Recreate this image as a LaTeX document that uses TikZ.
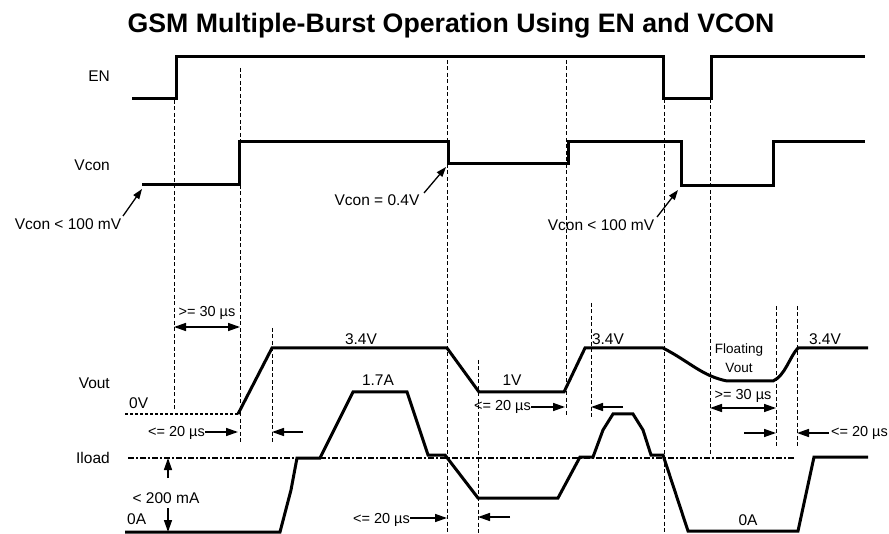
\documentclass[tikz,border=0pt]{standalone}
\usepackage{fontspec}
\setmainfont{Liberation Sans}
\usetikzlibrary{arrows.meta}
\begin{document}
\begin{tikzpicture}[x=1pt,y=-1pt,
  wave/.style={line width=3pt, line join=miter},
  guide/.style={line width=0.9pt, dash pattern=on 4pt off 2.5pt},
  zeroref/.style={line width=1.2pt, dash pattern=on 3pt off 2pt},
  loadref/.style={line width=1.5pt, dash pattern=on 6pt off 2pt on 2pt off 2pt},
  dimarrow/.style={line width=1.5pt, -{Triangle[length=12pt,width=8pt]}},
  dimboth/.style={line width=1.5pt, {Triangle[length=12pt,width=8pt]}-{Triangle[length=12pt,width=8pt]}},
  lbl/.style={font=\fontsize{15.5}{18}\selectfont, inner sep=0pt, anchor=base},
  dimlbl/.style={font=\fontsize{14.5}{17}\selectfont, inner sep=0pt, anchor=base},
  small/.style={font=\fontsize{13.5}{16}\selectfont, inner sep=0pt, anchor=base},
  note/.style={line width=1.3pt, -{Triangle[length=10pt,width=7pt]}}
]
\useasboundingbox (0,0) rectangle (889,534);
% title
\node[inner sep=0pt, anchor=base, font=\fontsize{26.7}{31}\selectfont\bfseries] (title) at (451,33) {GSM Multiple-Burst Operation Using EN and VCON};
% signal labels
\node[lbl, anchor=base east] (lEN) at (110,82) {EN};
\node[lbl, anchor=base east] (lVcon) at (110,171) {Vcon};
\node[lbl, anchor=base east] (lVout) at (110,389) {Vout};
\node[lbl, anchor=base east] (lIload) at (110,464) {Iload};
% guide lines
\foreach \x/\a/\b in {174/100/410, 240/68/443, 447/60/534, 272/328/443, 478/360/534, 566/60/415, 591/303/419, 664/99/534, 710/99/455, 776/306/448, 797/306/448}
  \draw[guide] (\x,\a) -- (\x,\b);
% EN waveform
\draw[wave] (132,99) -- (176,99) -- (176,57) -- (663,57) -- (663,99) -- (711,99) -- (711,57) -- (865,57);
% Vcon waveform
\draw[wave] (142,185) -- (239,185) -- (239,142) -- (448,142) -- (448,164) -- (568,164) -- (568,142) -- (681,142) -- (681,186) -- (773,186) -- (773,142) -- (865,142);
% Vcon annotations
\node[lbl] (vc1) at (68,230) {Vcon < 100 mV};
\coordinate (vc1t) at (142,189);
\draw[note] (123,216) -- (vc1t);
\node[lbl] (vc2) at (377,206) {Vcon = 0.4V};
\coordinate (vc2t) at (446,167);
\draw[note] (424,193) -- (vc2t);
\node[lbl] (vc3) at (601,231) {Vcon < 100 mV};
\coordinate (vc3t) at (678,190);
\draw[note] (657,217) -- (vc3t);
% Vout
\draw[zeroref] (125,414) -- (238,414);
\node[lbl, anchor=base west] (l0V) at (129,409) {0V};
\draw[wave] (238,414) -- (272,348) -- (447,348) -- (479,392) -- (564,392) -- (585,348) -- (663,348)
  .. controls (690,362) and (702,376) .. (727,381) -- (773,381)
  .. controls (785,376) and (790,356) .. (798,348) -- (868,348);
\node[lbl] (v34a) at (361,345) {3.4V};
\node[lbl] (v1) at (512,386) {1V};
\node[lbl] (v34b) at (608,345) {3.4V};
\node[lbl] (v34c) at (825,345) {3.4V};
\node[small] (flt1) at (739,354) {Floating};
\node[small] (flt2) at (739,373) {Vout};
% Iload
\draw[loadref] (128,458) -- (795,458);
\node[lbl, anchor=base west] (l0A) at (127,524) {0A};
\node[lbl] (l0Ab) at (748,525) {0A};
\node[lbl] (i17) at (378,386) {1.7A};
\draw[wave] (125,532) -- (280,532) -- (291,490) -- (297,458) -- (320,458) -- (353,392) -- (407,392) -- (428,455) -- (445,455)
  -- (478,498) -- (558,498) -- (580,457) -- (593,457) -- (603,430) -- (613,414) -- (633,414) -- (643,430) -- (651,455) -- (663,455)
  -- (688,531) -- (798,531) -- (814,457) -- (868,457);
% < 200 mA
\node[lbl] (i200) at (166,503) {< 200 mA};
\coordinate (i200t) at (168,458);
\coordinate (i200b) at (168,532);
\draw[dimarrow] (168,478) -- (i200t);
\draw[dimarrow] (168,508) -- (i200b);
% timing dims
\node[dimlbl] (t30a) at (207,317) {>= 30 µs};
\coordinate (t30al) at (174,327);
\coordinate (t30ar) at (240,327);
\draw[dimboth] (t30al) -- (t30ar);
\node[dimlbl, anchor=base east] (t20a) at (205,437) {<= 20 µs};
\coordinate (t20at) at (238,432);
\draw[dimarrow] (t20a.east |- t20at) -- (t20at);
\coordinate (t20bt) at (272,432);
\draw[dimarrow] (303,432) -- (t20bt);
\node[dimlbl, anchor=base east] (t20c) at (410,523) {<= 20 µs};
\coordinate (t20ct) at (447,518);
\draw[dimarrow] (t20c.east |- t20ct) -- (t20ct);
\coordinate (t20dt) at (478,517);
\draw[dimarrow] (510,517) -- (t20dt);
\node[dimlbl, anchor=base east] (t20e) at (531,411) {<= 20 µs};
\coordinate (t20et) at (565,407);
\draw[dimarrow] (t20e.east |- t20et) -- (t20et);
\coordinate (t20ft) at (591,407);
\draw[dimarrow] (623,407) -- (t20ft);
\node[dimlbl] (t30b) at (743,400) {>= 30 µs};
\coordinate (t30bl) at (710,408);
\coordinate (t30br) at (776,408);
\draw[dimboth] (t30bl) -- (t30br);
\coordinate (t20gt) at (776,433);
\draw[dimarrow] (744,433) -- (t20gt);
\node[dimlbl, anchor=base east] (t20h) at (888,437) {<= 20 µs};
\coordinate (t20ht) at (797,433);
\draw[dimarrow] ([xshift=-2pt]t20h.west |- t20ht) -- (t20ht);
\end{tikzpicture}
\end{document}
